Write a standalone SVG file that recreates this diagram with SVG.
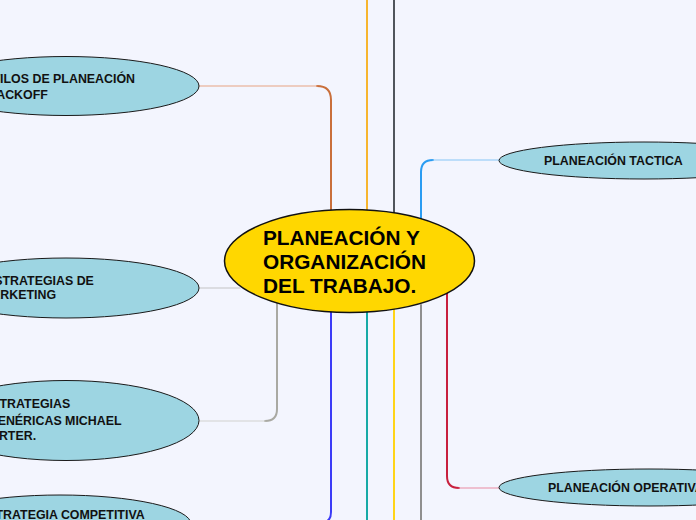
<svg xmlns="http://www.w3.org/2000/svg" width="696" height="520" viewBox="0 0 696 520">
<style>
.node{fill:#9dd5e2;stroke:#1a1a1a;stroke-width:1}
.center{fill:#ffd700;stroke:#111;stroke-width:1.5}
.t{font-family:"Liberation Sans",Arial,sans-serif;font-weight:bold;font-size:12.4px;fill:#111}
.tc{font-family:"Liberation Sans",Arial,sans-serif;font-weight:bold;font-size:20.8px;fill:#000}
path{fill:none;stroke-linecap:round}
.v{stroke-width:2}
.h{stroke-width:1.2}
</style>
<rect width="696" height="520" fill="#f3f5fe"/>
<g id="connectors">
  <path class="v" d="M367,0 V215" stroke="#f7b52e"/>
  <path class="v" d="M394,0 V218" stroke="#50555c"/>
  <path class="v" d="M331,215 V100 Q331,86 317,86" stroke="#c96f3b"/>
  <path class="h" d="M317,86 H199" stroke="#e8a482"/>
  <path class="v" d="M421,222 V172 Q421,160 433,160" stroke="#2a9cf2"/>
  <path class="h" d="M433,160 H500" stroke="#86c6f6"/>
  <path class="h" d="M199,288 H240" stroke="#c4c4c4"/>
  <path class="v" d="M277,300 V409 Q277,421 265,421" stroke="#a9a9a3"/>
  <path class="h" d="M265,421 H199" stroke="#d2d2ce"/>
  <path class="v" d="M447,290 V476 Q447,488 459,488" stroke="#c8203e"/>
  <path class="h" d="M459,488 H500" stroke="#ea8ca2"/>
  <path class="v" d="M331,308 V512 Q331,523 320,523" stroke="#3b3bf7"/>
  <path class="h" d="M320,523 H190" stroke="#9090f8"/>
  <path class="v" d="M367,308 V520" stroke="#17aaa6"/>
  <path class="v" d="M394,308 V520" stroke="#ffd418"/>
  <path class="v" d="M421,305 V520" stroke="#8f8f8f"/>
</g>
<g id="node-estilos">
  <ellipse class="node" cx="66" cy="86" rx="133" ry="29.5"/>
  <text class="t" x="-24" y="82.5">ESTILOS DE PLANEACIÓN</text>
  <text class="t" x="-24" y="98.5">DE ACKOFF</text>
</g>
<g id="node-marketing">
  <ellipse class="node" cx="66" cy="288" rx="133" ry="30"/>
  <text class="t" x="-14" y="284.5">ESTRATEGIAS DE</text>
  <text class="t" x="-19" y="299">MARKETING</text>
</g>
<g id="node-porter">
  <ellipse class="node" cx="66" cy="420.5" rx="133" ry="40"/>
  <text class="t" x="-17" y="407.5">ESTRATEGIAS</text>
  <text class="t" x="-12" y="424.5">GENÉRICAS MICHAEL</text>
  <text class="t" x="-19" y="439.5">PORTER.</text>
</g>
<g id="node-competitiva">
  <ellipse class="node" cx="60" cy="524" rx="131" ry="29"/>
  <text class="t" x="-21" y="518.5">ESTRATEGIA COMPETITIVA</text>
</g>
<g id="node-tactica">
  <ellipse class="node" cx="644" cy="160.5" rx="145" ry="18.5"/>
  <text class="t" x="544" y="164.5">PLANEACIÓN TACTICA</text>
</g>
<g id="node-operativa">
  <ellipse class="node" cx="649" cy="487.5" rx="150" ry="18.5"/>
  <text class="t" x="548" y="492">PLANEACIÓN OPERATIVA</text>
</g>
<g id="node-center">
  <ellipse class="center" cx="349.5" cy="261" rx="125" ry="51.5"/>
  <text class="tc" x="263" y="245">PLANEACIÓN Y</text>
  <text class="tc" x="263" y="269">ORGANIZACIÓN</text>
  <text class="tc" x="263" y="293">DEL TRABAJO.</text>
</g>
</svg>
